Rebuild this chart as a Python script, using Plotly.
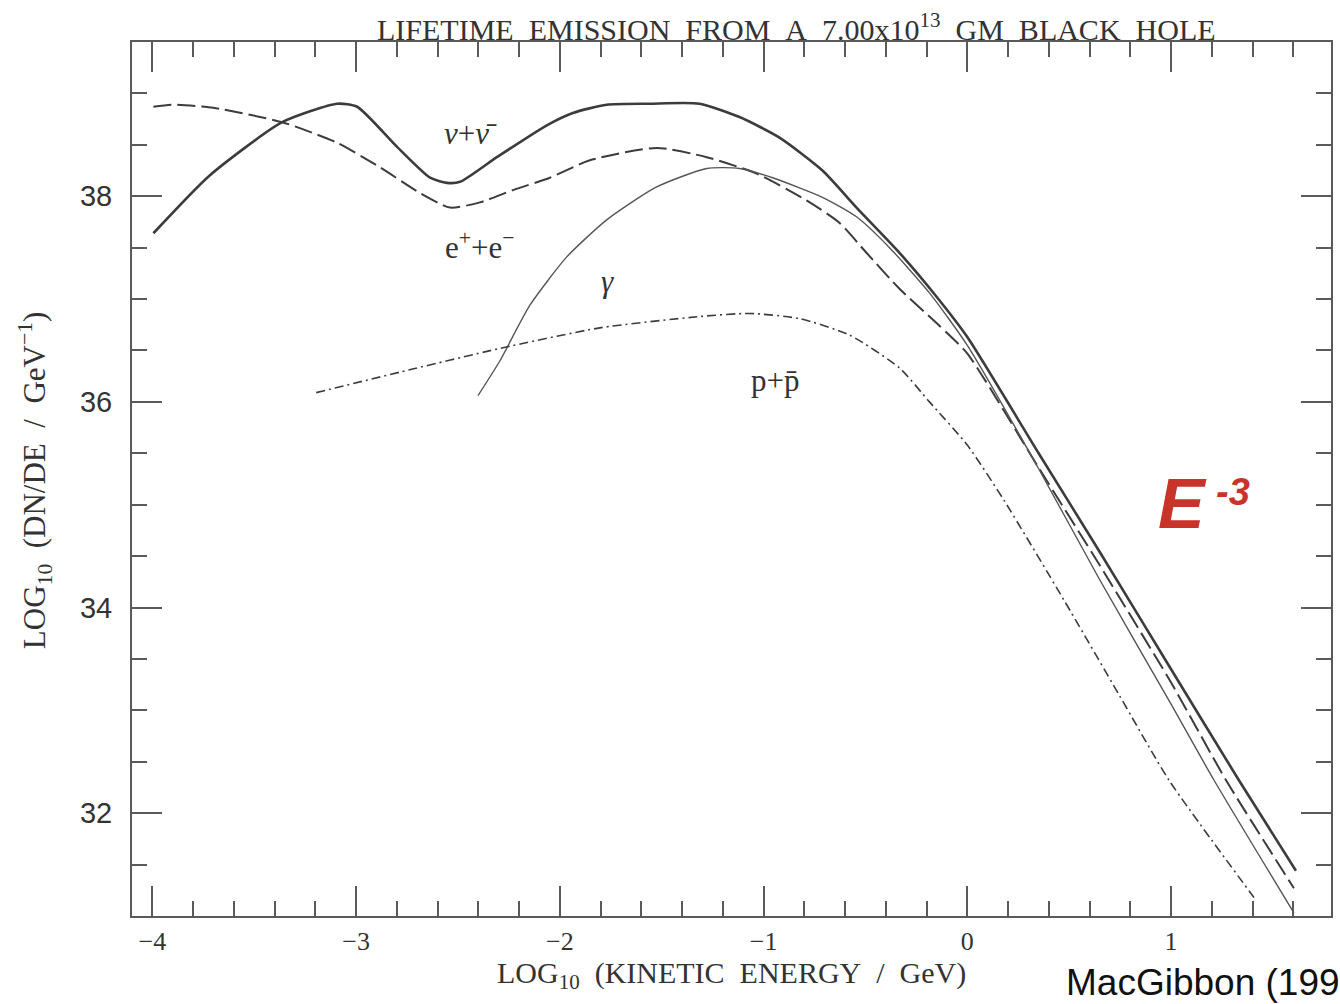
import plotly.graph_objects as go

# Lifetime emission spectra of a 7e13 g black hole (log10 dN/dE vs log10 kinetic energy)
nu_x = [-3.995, -3.72, -3.363, -3.093, -2.995, -2.799, -2.637, -2.554, -2.49, -2.309,
        -2.064, -1.936, -1.77, -1.559, -1.314, -1.118, -0.922, -0.711, -0.544, -0.333,
        -0.15, 0.0, 0.35, 0.647, 1.0, 1.333, 1.613]
nu_y = [37.64, 38.20, 38.72, 38.90, 38.87, 38.48, 38.18, 38.13, 38.14, 38.38,
        38.69, 38.81, 38.89, 38.90, 38.90, 38.77, 38.57, 38.25, 37.89, 37.45,
        37.02, 36.63, 35.50, 34.55, 33.40, 32.32, 31.44]

ee_x = [-3.995, -3.897, -3.701, -3.363, -3.093, -2.882, -2.686, -2.539, -2.392, -2.23,
        -2.049, -1.853, -1.525, -1.279, -1.034, -0.789, -0.627, -0.495, -0.333, -0.137,
        0.0, 0.35, 0.647, 1.0, 1.27, 1.603]
ee_y = [38.87, 38.89, 38.86, 38.72, 38.52, 38.28, 38.03, 37.89, 37.94, 38.06,
        38.18, 38.35, 38.47, 38.38, 38.22, 37.96, 37.74, 37.45, 37.10, 36.74,
        36.47, 35.36, 34.42, 33.27, 32.32, 31.27]

gam_x = [-2.402, -2.294, -2.147, -1.966, -1.77, -1.525, -1.279, -1.118, -0.956, -0.711,
         -0.544, -0.382, -0.186, 0.0, 0.35, 0.647, 1.0, 1.211, 1.603]
gam_y = [36.06, 36.40, 36.94, 37.41, 37.77, 38.09, 38.27, 38.27, 38.18, 37.99,
         37.80, 37.50, 37.06, 36.55, 35.35, 34.28, 33.06, 32.32, 31.03]

pp_x = [-3.196, -2.784, -2.294, -1.804, -1.314, -1.069, -0.824, -0.578, -0.333, -0.186,
        0.0, 0.181, 0.475, 0.745, 0.99, 1.407]
pp_y = [36.09, 36.29, 36.52, 36.72, 36.83, 36.86, 36.81, 36.65, 36.33, 36.00,
        35.58, 35.04, 34.07, 33.15, 32.32, 31.18]

x_ticks = [-4, -3, -2, -1, 0, 1]
x_tick_text = ["\u22124", "\u22123", "\u22122", "\u22121", "0", "1"]
y_ticks = [32, 34, 36, 38]
y_tick_text = ["32", "34", "36", "38"]

INK = "#3c3c3c"
FRAME = "#5a5a5a"
SERIF = "Liberation Serif"
SANS = "Liberation Sans"

fig = go.Figure()
fig.add_trace(go.Scatter(x=nu_x, y=nu_y, mode="lines",
                         line=dict(color=INK, width=2.6, shape="spline", smoothing=0.6)))
fig.add_trace(go.Scatter(x=ee_x, y=ee_y, mode="lines",
                         line=dict(color=INK, width=2.0, dash="18px,6px", shape="spline", smoothing=0.6)))
fig.add_trace(go.Scatter(x=gam_x, y=gam_y, mode="lines",
                         line=dict(color="#555555", width=1.4, shape="spline", smoothing=0.6)))
fig.add_trace(go.Scatter(x=pp_x, y=pp_y, mode="lines",
                         line=dict(color=INK, width=1.6, dash="9px,4px,2px,4px", shape="spline", smoothing=0.6)))

# plot area in pixels
L, R, T, B = 132, 1333, 42, 916
W, H = 1340, 1004


def px(xp):
    return (xp - L) / (R - L)


def py(yp):
    return (B - yp) / (B - T)


axis_common = dict(showline=True, linecolor=FRAME, linewidth=2, mirror="ticks",
                   ticks="inside", ticklen=30, tickwidth=2, tickcolor=FRAME,
                   showgrid=False, zeroline=False)

fig.update_xaxes(range=[-4.10, 1.785], tickmode="array", tickvals=x_ticks, ticktext=x_tick_text,
                 tickfont=dict(family=SERIF, size=26, color="#333333"), ticklabelstandoff=1,
                 minor=dict(tickmode="linear", tick0=0, dtick=0.2, ticks="inside", ticklen=15,
                            tickwidth=2, tickcolor=FRAME, showgrid=False),
                 **axis_common)
fig.update_yaxes(range=[31.0, 39.5], tickmode="array", tickvals=y_ticks, ticktext=y_tick_text,
                 tickfont=dict(family=SANS, size=29, color="#333333"), ticklabelstandoff=12,
                 minor=dict(tickmode="linear", tick0=0, dtick=0.5, ticks="inside", ticklen=15,
                            tickwidth=2, tickcolor=FRAME, showgrid=False),
                 **axis_common)

nb = "\u00a0\u00a0"


def note(text, x, y, size, family=SERIF, color="#333333", ref="paper", **kw):
    return dict(text=text, x=x, y=y, xref=ref, yref=ref if ref == "paper" else "y",
                xanchor=kw.pop("xanchor", "center"), yanchor="middle", showarrow=False,
                font=dict(family=family, size=size, color=color), **kw)


annotations = [
    note(f"LIFETIME{nb}EMISSION{nb}FROM{nb}A{nb}7.00x10<sup>13</sup>{nb}GM{nb}BLACK{nb}HOLE",
         px(798), py(27), 30),
    note(f"LOG<sub>10</sub>{nb}(KINETIC{nb}ENERGY{nb}/{nb}GeV)",
         px(733), py(975), 30),
    note(f"LOG<sub>10</sub>{nb}(DN/DE{nb}/{nb}GeV<sup>\u22121</sup>)",
         px(35), py(480), 31, textangle=-90),
    note("MacGibbon (1991)", px(1066), py(983), 37, family=SANS, color="#111111", xanchor="left"),
    note("<b><i>E</i></b>", 1.054, 35.01, 70, family=SANS, color="#c8342a", ref="x"),
    note("<b><i>-3</i></b>", 1.304, 35.12, 38, family=SANS, color="#c8342a", ref="x"),
    note("<i>\u03bd</i>+<i>\u03bd\u0304</i>", -2.441, 38.61, 31, ref="x"),
    note("e<sup>+</sup>+e<sup>\u2212</sup>", -2.392, 37.52, 31, ref="x"),
    note("<i>\u03b3</i>", -1.765, 37.17, 31, ref="x"),
    note("p+p\u0304", -0.946, 36.21, 31, ref="x"),
]

fig.update_layout(width=W, height=H, margin=dict(l=L, r=W - R, t=T, b=H - B),
                  paper_bgcolor="white", plot_bgcolor="white", showlegend=False,
                  annotations=annotations)

fig.write_html("out.html", include_plotlyjs=True, config={"displayModeBar": False})
